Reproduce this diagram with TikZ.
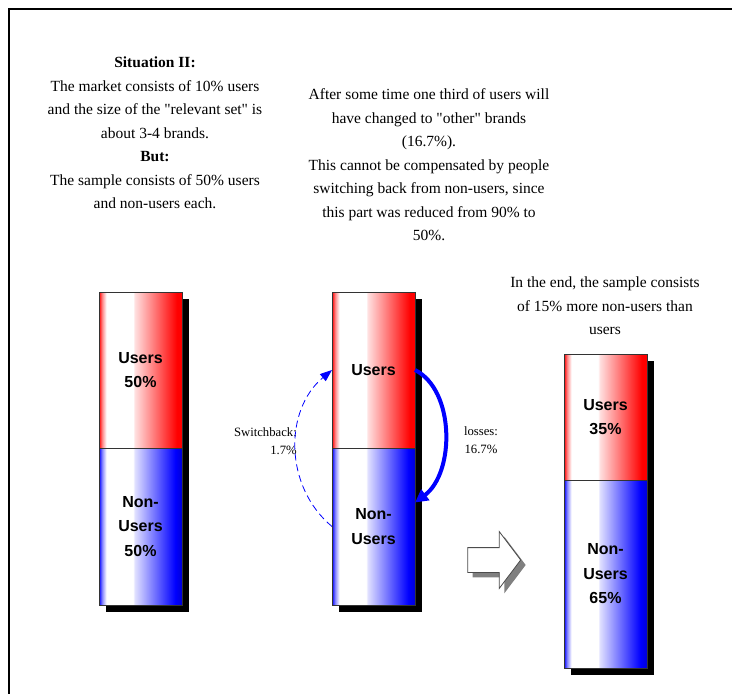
\documentclass[tikz,border=0pt]{standalone}
\usepackage{fontspec}
\setmainfont{Liberation Serif}[Ligatures=TeXOff]
\newfontfamily\barfont{Liberation Sans}
\usepackage{tikz}
\usetikzlibrary{positioning,shapes.arrows,arrows.meta,shadows}
\definecolor{sbred}{RGB}{255,0,0}
\definecolor{sbblue}{RGB}{0,0,255}
\definecolor{sbnavy}{RGB}{0,0,215}
\colorlet{sbredhalf}{sbred!45}
\colorlet{sbredlite}{sbred!12}
\colorlet{sbbluehalf}{sbblue!45}
\colorlet{sbbluelite}{sbblue!12}
\pgfdeclarehorizontalshading{usershade}{100bp}{color(0bp)=(sbred); color(25bp)=(sbred); color(27bp)=(sbredhalf); color(29.5bp)=(white); color(45.5bp)=(white); color(46.5bp)=(sbredlite); color(72bp)=(sbred); color(100bp)=(sbred)}
\pgfdeclarehorizontalshading{nonshade}{100bp}{color(0bp)=(sbblue); color(25bp)=(sbblue); color(27bp)=(sbbluehalf); color(29.5bp)=(white); color(45.5bp)=(white); color(46.5bp)=(sbbluelite); color(71bp)=(sbblue); color(75bp)=(sbnavy); color(100bp)=(sbnavy)}
\tikzset{
  bar/.style={draw=black!80,line width=0.6pt,minimum width=83pt,outer sep=0pt,inner sep=0pt,align=center,font=\barfont\bfseries\fontsize{16}{24.5}\selectfont,drop shadow={shadow xshift=7pt,shadow yshift=-7pt,fill=black,opacity=1}},
  usr/.style={bar,shading=usershade},
  non/.style={bar,shading=nonshade},
  txt/.style={align=center,inner sep=0pt,font=\fontsize{15.5}{23.5}\selectfont},
  lbl/.style={inner sep=0pt,font=\fontsize{12.7}{18.5}\selectfont},
  lossarr/.style={-{Triangle[length=13pt,width=13pt]},line width=4pt,draw=sbblue},
  backarr/.style={-{Triangle[length=12pt,width=9pt]},line width=0.8pt,draw=sbblue,dash pattern=on 7pt off 4pt},
  thenarr/.style={single arrow,draw=black!70,fill=white,line width=0.8pt,minimum height=53pt,inner xsep=0pt,inner ysep=12pt,single arrow head extend=16pt,single arrow tip angle=106,drop shadow={shadow xshift=5pt,shadow yshift=-5pt,fill=black!50,opacity=1}},
}
\begin{document}
\begin{tikzpicture}[x=1pt,y=-1pt]
  \useasboundingbox (0,0) rectangle (732,694);
  \draw[line width=2pt] (9,694) -- (9,9) -- (732,9);
  \node[txt] (situ) at (155,133) {\textbf{Situation II:}\\The market consists of 10\% users\\and the size of the "relevant set" is\\about 3-4 brands.\\\textbf{But:}\\The sample consists of 50\% users\\and non-users each.};
  \node[txt] (later) at (429,165) {After some time one third of users will\\have changed to "other" brands\\(16.7\%).\\This cannot be compensated by people\\switching back from non-users, since\\this part was reduced from 90\% to\\50\%.};
  \node[txt] (endtxt) at (605,306) {In the end, the sample consists\\of 15\% more non-users than\\users};
  \node[usr,minimum height=156pt] (u1) at (140.5,370) {Users\\50\%};
  \node[non,minimum height=157pt,below=0pt of u1] (n1) {Non-\\Users\\50\%};
  \node[usr,minimum height=156pt,right=150pt of u1] (u2) {Users};
  \node[non,minimum height=157pt,below=0pt of u2] (n2) {Non-\\Users};
  \node[usr,minimum height=126pt] (u3) at (605.5,417) {Users\\35\%};
  \node[non,minimum height=188pt,below=0pt of u3] (n3) {Non-\\Users\\65\%};
  \node[thenarr] (go) at (489.5,560) {};
  \node[lbl,align=right,anchor=east] (swb) at (297,441) {Switchback:\\1.7\%};
  \node[lbl,align=center] (loss) at (481,440) {losses:\\16.7\%};
  \draw[lossarr] (u2.east) .. controls +(40,20) and +(40,-30) .. (n2.30);
  \draw[backarr] (n2.west) .. controls +(-48,-40) and +(-48,40) .. (u2.west);
\end{tikzpicture}
\end{document}
